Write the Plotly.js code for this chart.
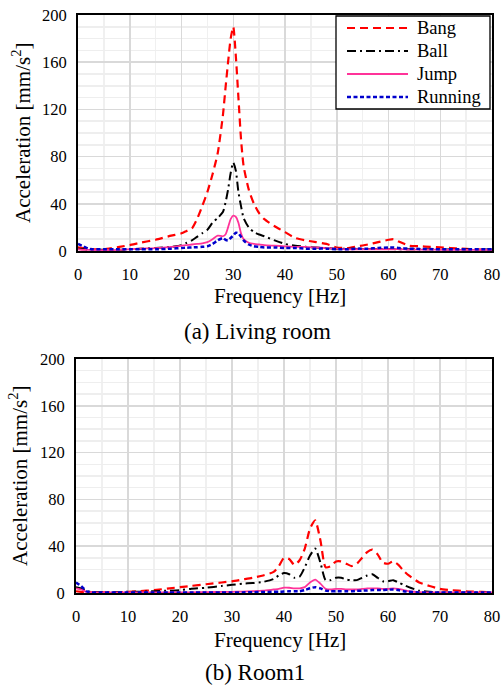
<!DOCTYPE html>
<html>
<head>
<meta charset="utf-8">
<script src="https://cdn.plot.ly/plotly-3.0.1.min.js"></script>
<style>html,body{margin:0;padding:0;background:#fff;}#chart{width:502px;height:688px;}</style>
</head>
<body>
<div id="chart"></div>
<script>
// ---- Data ----
const seriesNames = ["Bang", "Ball", "Jump", "Running"];
const xTicks = [0, 10, 20, 30, 40, 50, 60, 70, 80];
const yTicks = [0, 40, 80, 120, 160, 200];

// (a) Living room
const freqA = [0,1,2,3,5,8,10,12,15,18,20,21,22,23,24,25,26,27,28,28.5,29,29.5,30,30.5,31,31.5,32,33,34,35,36,38,40,42,44,46,48,50,52,54,56,58,60,61,62,64,66,68,70,72,74,76,78,80];
const bangA = [3,2.5,2,1.5,1.5,3.5,5,7,9.5,13,15,17,19,27,38,50,65,83,115,138,160,180,190,165,130,95,72,52,40,32,27,21,16,11,9,7.5,6,3,2.5,4,5.5,7.5,9.5,10,8,4.5,4,3.5,3,2.5,2,1.5,1.2,1];
const ballA = [2,1.5,1,1,1,1,1.5,2,2.5,3.5,5,7,9,12,15,18,24,28,33,41,52,66,75,68,50,38,28,20,16,14,12.5,9,6,4.5,3.5,3,2.5,2,2,1.8,1.8,1.6,1.6,1.6,1.5,1.5,1.5,1.5,1.4,1.3,1.3,1.2,1.2,1.2];
const jumpA = [1.5,1,1,0.8,0.8,1,1.5,2,2.5,3.5,4.5,5,5.5,6,6.5,7.5,10,13,12.5,14,20,27,30,29,24,15,10,7,6,5.5,5,4.5,4,3.5,3.5,3,2.5,2,1.5,1.5,1.5,1.5,1.5,1.5,1.5,1.2,1.2,1.2,1,1,1,1,1,1];
const runA = [6,4,2,1.5,1.5,1.5,1.5,1.5,1.5,2,2.5,2.8,3,3.2,3.5,4,6,9,11,9.5,9,11,13,15.5,15,12,9,5.5,4,3.5,3,3,2.5,2.5,2,2,2,1.5,1.5,2,2,2.5,3,3,2.5,2,1.8,1.6,1.5,1.5,1.5,1.5,1.5,1.5];

// (b) Room1
const freqB = [0,1,2,3,5,8,10,12,15,18,20,22,25,28,30,32,34,36,38,39,40,41,42,43,44,45,46,47,48,49,50,51,52,53,54,55,56,57,58,59,60,61,62,63,64,66,68,70,72,75,78,80];
const bangB = [1.5,1,0.5,0.5,0.5,0.5,1,1.5,2.5,4,5,6,7.5,9,10,11.5,13,15,18,23,30,29,24,28,38,55,62,45,22,23,27,27,25,23,25,30,35,37,33,26,25,27,24,19,15,9,6,3.5,2.5,1.5,1,0.5];
const ballB = [5,4,1.5,1,0.8,0.8,1,1,1.5,2,2.5,3.5,4.5,6,7,8,8.5,9.5,12,15,17,16,13,14,22,32,38,26,11,11,13,13,11.5,11,11,13,15,16,13,10,10,11,9,7,5,2,1,0.5,0.5,0.5,0.5,0.5];
const jumpB = [4,3,1,0.5,0.5,0.5,0.5,0.5,0.5,0.5,0.5,0.6,0.8,0.9,1,1.2,1.5,2,3,3.5,4.5,4.5,4,4,5,9,11.5,8,3.5,3,3.5,3.5,3,3,3,3.5,4,4,4,3.5,3.5,4,3.5,2.5,1.5,0.8,0.5,0.5,0.5,0.5,0.5,0.5];
const runB = [9,6,1.5,0.5,0.5,0.5,0.5,0.5,0.5,0.5,0.5,0.5,0.5,0.5,0.5,0.5,0.7,0.8,1,1,1.2,1.5,1.5,1.5,2.5,4,5,4,2,1.5,1.5,1.5,1.5,1.5,1.8,2,2.2,2.5,2.5,2.5,2.8,3,2.5,1.5,1,0.5,0.5,0.5,0.5,0.5,0.5,0.5];

// ---- Styles ----
const FONT = "Liberation Serif";
const styles = [
  {color: "#ff0000", width: 2.2, dash: "8px,5px"},
  {color: "#000000", width: 2, dash: "9px,4px,2px,4px"},
  {color: "#ff3399", width: 1.8, dash: "solid"},
  {color: "#0000cc", width: 2.5, dash: "4px,2.5px"}
];

function mk(x, y, i, xa, ya) {
  return {
    x: x, y: y, type: "scatter", mode: "lines", name: seriesNames[i],
    xaxis: xa, yaxis: ya, showlegend: false,
    line: {color: styles[i].color, width: styles[i].width, dash: styles[i].dash, shape: "spline", smoothing: 0.6},
    hoverinfo: "skip"
  };
}

const traces = [
  mk(freqA, bangA, 0, "x", "y"),
  mk(freqA, ballA, 1, "x", "y"),
  mk(freqA, jumpA, 2, "x", "y"),
  mk(freqA, runA, 3, "x", "y"),
  mk(freqB, bangB, 0, "x2", "y2"),
  mk(freqB, ballB, 1, "x2", "y2"),
  mk(freqB, jumpB, 2, "x2", "y2"),
  mk(freqB, runB, 3, "x2", "y2")
];

const W = 502, H = 688;
const px = v => v / W;
const py = v => 1 - v / H;

function xax(d, anchor) {
  return {
    domain: d, anchor: anchor, range: [0, 80], tickvals: xTicks, ticktext: xTicks.map(String),
    showline: true, linecolor: "#000", linewidth: 2, mirror: true,
    showgrid: true, gridcolor: "#d9d9d9", gridwidth: 1.5,
    minor: {dtick: 5, tick0: 0, showgrid: true, gridcolor: "#f0f0f0", gridwidth: 1.5, ticks: ""},
    zeroline: false, ticks: "outside", ticklen: 7, tickcolor: "rgba(0,0,0,0)",
    tickfont: {family: FONT, size: 16.5, color: "#000"}, fixedrange: true
  };
}
function yax(d, anchor) {
  return {
    domain: d, anchor: anchor, range: [0, 200], tickvals: yTicks, ticktext: yTicks.map(String),
    showline: true, linecolor: "#000", linewidth: 2, mirror: true,
    showgrid: true, gridcolor: "#d9d9d9", gridwidth: 1.5,
    minor: {dtick: 10, tick0: 0, showgrid: true, gridcolor: "#eeeeee", gridwidth: 1.5, ticks: ""},
    zeroline: false, ticks: "outside", ticklen: 6, tickcolor: "rgba(0,0,0,0)",
    tickfont: {family: FONT, size: 16.5, color: "#000"}, fixedrange: true
  };
}

function ann(text, x, y, size, angle, xanchor) {
  return {text: text, xref: "paper", yref: "paper", x: px(x), y: py(y),
    xanchor: xanchor || "center", yanchor: "middle", showarrow: false, textangle: angle || 0,
    font: {family: FONT, size: size, color: "#000"}};
}

// Legend (drawn manually as a boxed key inside the top panel)
const legY = [28, 51, 74, 97];
const shapes = [{type: "rect", xref: "paper", yref: "paper", x0: px(336), x1: px(490), y0: py(109), y1: py(16),
  line: {color: "#000", width: 1.3}, fillcolor: "#fff", layer: "above"}];
const legAnn = [];
seriesNames.forEach((n, i) => {
  shapes.push({type: "line", xref: "paper", yref: "paper", x0: px(347), x1: px(408), y0: py(legY[i]), y1: py(legY[i]),
    line: {color: styles[i].color, width: styles[i].width, dash: styles[i].dash}, layer: "above"});
  legAnn.push(ann(n, 415, legY[i], 18.5, 0, "left"));
});

const layout = {
  width: W, height: H, margin: {l: 0, r: 0, t: 0, b: 0},
  paper_bgcolor: "#fff", plot_bgcolor: "#fff",
  font: {family: FONT, color: "#000"},
  xaxis: xax([px(78), px(492)], "y"),
  yaxis: yax([py(251), py(15)], "x"),
  xaxis2: xax([px(76), px(492)], "y2"),
  yaxis2: yax([py(593), py(359)], "x2"),
  shapes: shapes,
  annotations: [
    ann("Acceleration [mm/s<sup>2</sup>]", 21, 133, 21, -90),
    ann("Frequency [Hz]", 280, 296, 21),
    ann("(a) Living room", 257, 331, 23),
    ann("Acceleration [mm/s<sup>2</sup>]", 18, 476, 21, -90),
    ann("Frequency [Hz]", 280, 640, 21),
    ann("(b) Room1", 255, 672, 23)
  ].concat(legAnn),
  showlegend: false
};

Plotly.newPlot("chart", traces, layout, {staticPlot: true, displayModeBar: false});
</script>
</body>
</html>
